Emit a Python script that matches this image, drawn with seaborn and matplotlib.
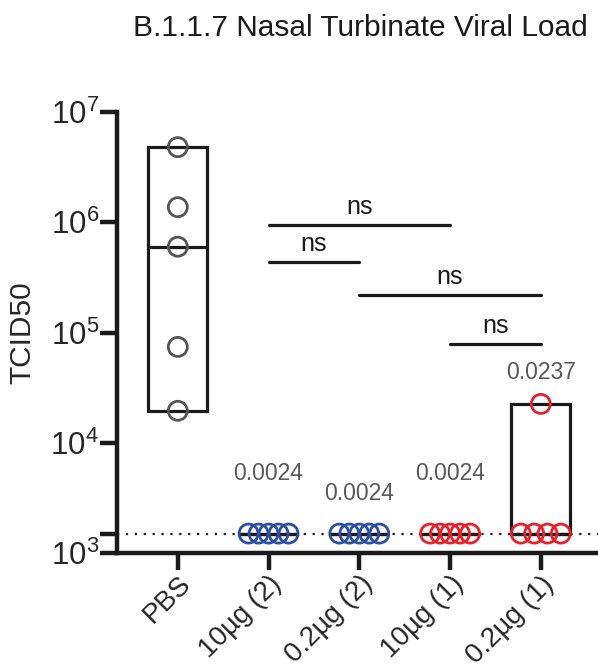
import numpy as np
import pandas as pd
import matplotlib
matplotlib.use('Agg')
import matplotlib.pyplot as plt
import seaborn as sns
from matplotlib.collections import PathCollection

# ---------------- data ----------------
groups = ['PBS', '10µg (2)', '0.2µg (2)', '10µg (1)', '0.2µg (1)']
pbs = [4.8e6, 1.37e6, 6.0e5, 7.4e4, 1.95e4]
ug10_dose2 = [1.5e3, 1.5e3, 1.5e3, 1.5e3, 1.5e3]
ug02_dose2 = [1.5e3, 1.5e3, 1.5e3, 1.5e3, 1.5e3]
ug10_dose1 = [1.5e3, 1.5e3, 1.5e3, 1.5e3, 1.5e3]
ug02_dose1 = [2.25e4, 1.5e3, 1.5e3, 1.5e3, 1.5e3]
lod = 1.5e3

colors = ['#555555', '#2d4fa3', '#2d4fa3', '#e8202a', '#e8202a']

# p values vs PBS and the height they are written at
p_labels = ['', '0.0024', '0.0024', '0.0024', '0.0237']
p_label_y = [None, 5.3e3, 3.5e3, 5.3e3, 4.3e4]

# pairwise comparisons (all ns)
comparisons = [('10µg (2)', '10µg (1)'), ('10µg (2)', '0.2µg (2)'),
               ('0.2µg (2)', '0.2µg (1)'), ('10µg (1)', '0.2µg (1)')]
comp_y = [9.5e5, 4.4e5, 2.2e5, 7.9e4]
comp_labels = ['ns', 'ns', 'ns', 'ns']

df = pd.DataFrame({
    'group': np.repeat(groups, 5),
    'tcid50': pbs + ug10_dose2 + ug02_dose2 + ug10_dose1 + ug02_dose1,
})

# ---------------- style ----------------
sns.set_style('ticks')
plt.rcParams['font.family'] = ['Liberation Sans', 'DejaVu Sans']
plt.rcParams['mathtext.fontset'] = 'custom'
plt.rcParams['mathtext.rm'] = 'Liberation Sans'
plt.rcParams['mathtext.it'] = 'Liberation Sans:italic'
plt.rcParams['text.color'] = '#1a1a1a'
ink = '#1a1a1a'

fig = plt.figure(figsize=(5.98, 6.7), dpi=100)
ax = fig.add_axes([117 / 598, 117 / 670, 481 / 598, 441 / 670])
ax.set_yscale('log')

sns.stripplot(data=df, x='group', y='tcid50', hue='group', order=groups,
              hue_order=groups, palette=colors, jitter=False, size=13.7,
              linewidth=2, legend=False, ax=ax, zorder=5)

# open circles, tied values spread out side by side
for coll in ax.collections:
    if not isinstance(coll, PathCollection):
        continue
    off = np.asarray(coll.get_offsets()).copy()
    if len(off) == 0:
        continue
    ys = off[:, 1]
    for v in np.unique(ys):
        idx = np.where(ys == v)[0]
        if len(idx) > 1:
            off[idx, 0] = np.round(off[idx, 0]) + np.linspace(-0.22, 0.22, len(idx))
    coll.set_offsets(off)
    fc = coll.get_facecolors()
    coll.set_edgecolors(fc)
    coll.set_facecolors('none')
    coll.set_linewidth(2)
    coll.set_clip_on(False)

# floating bars min..max with median line
stats = df.groupby('group', sort=False)['tcid50'].agg(['min', 'max', 'median']).reindex(groups)
xpos = np.arange(len(groups))
ax.bar(xpos, stats['max'] - stats['min'], bottom=stats['min'], width=0.65,
       fill=False, edgecolor=ink, linewidth=2.3, zorder=3)
ax.hlines(stats['median'], xpos - 0.325, xpos + 0.325, color=ink, linewidth=2.3, zorder=3)

# limit of detection
ax.axhline(lod, color=ink, linestyle=(0, (1, 3)), linewidth=1.6, zorder=2)

# comparisons
for (a, b), y, lab in zip(comparisons, comp_y, comp_labels):
    i, j = groups.index(a), groups.index(b)
    ax.plot([i, j], [y, y], color=ink, linewidth=2.3, solid_capstyle='round', zorder=4)
    ax.annotate(lab, xy=((i + j) / 2, y), xytext=(0, 4), textcoords='offset points',
                ha='center', va='bottom', fontsize=18)

# p values
for i, (lab, y) in enumerate(zip(p_labels, p_label_y)):
    if lab:
        ax.text(i, y, lab, ha='center', va='center', fontsize=16.5, color='#595959')

# axes
ax.set_xlim(-0.67, 4.63)
ax.set_ylim(1e3, 1e7)
sns.despine(ax=ax)
for s in ['left', 'bottom']:
    ax.spines[s].set_linewidth(3.2)
    ax.spines[s].set_color(ink)

decades = [1e3, 1e4, 1e5, 1e6, 1e7]
ax.set_yticks(decades)
ax.set_yticklabels([r'$\mathregular{10^{%d}}$' % np.log10(d) for d in decades])
ax.set_yticks([lod], minor=True)
ax.yaxis.set_minor_formatter(matplotlib.ticker.NullFormatter())
ax.set_xticks(xpos)
ax.set_xticklabels(groups, rotation=45, ha='right', rotation_mode='anchor')
ax.tick_params(axis='both', which='both', length=12, width=3.2, color=ink, direction='out')
ax.tick_params(axis='y', labelsize=22.5, pad=1)
ax.tick_params(axis='x', labelsize=20, pad=1)

ax.set_xlabel('')
ax.set_ylabel('TCID50', fontsize=21.5)
ax.yaxis.set_label_coords(-0.168, 0.5)

fig.text(360 / 598, 1 - 36 / 670, 'B.1.1.7 Nasal Turbinate Viral Load',
         ha='center', va='baseline', fontsize=21.5)

fig.savefig('out.png', dpi=100)
